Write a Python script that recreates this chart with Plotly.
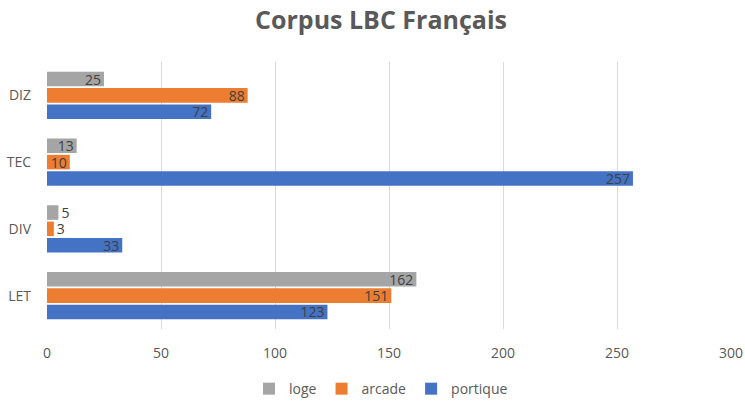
import plotly.graph_objects as go

categories = ["LET", "DIV", "TEC", "DIZ"]
portique = [123, 33, 257, 72]
arcade = [151, 3, 10, 88]
loge = [162, 5, 13, 25]
x_ticks = [0, 50, 100, 150, 200, 250, 300]

series = [
    ("portique", portique, "#4472C4"),
    ("arcade", arcade, "#ED7D31"),
    ("loge", loge, "#A5A5A5"),
]

W, H = 745, 401

fig = go.Figure()
for name, vals, color in series:
    fig.add_trace(go.Bar(
        y=categories, x=vals, name=name, orientation="h",
        marker=dict(color=color, line=dict(width=0)),
        text=[str(v) for v in vals],
        textposition=["inside" if v >= 10 else "outside" for v in vals],
        insidetextanchor="end",
        textangle=0,
        constraintext="none",
        textfont=dict(color="#404040", size=14, family="Open Sans"),
        outsidetextfont=dict(color="#404040", size=14, family="Open Sans"),
        cliponaxis=False,
    ))

fig.update_layout(
    width=W, height=H,
    paper_bgcolor="white", plot_bgcolor="white",
    title=dict(text="<b>Corpus LBC Français</b>", x=381 / W, xanchor="center",
               y=1 - 20 / H, yanchor="middle", yref="container",
               font=dict(size=25, color="#595959", family="Open Sans")),
    barmode="group", bargap=0.265, bargroupgap=0.11,
    margin=dict(l=47, r=14, t=62, b=72, autoexpand=False),
    font=dict(family="Open Sans", color="#595959", size=13),
    xaxis=dict(range=[0, 300], tickvals=x_ticks, showgrid=True,
               gridcolor="#D9D9D9", gridwidth=1, zeroline=False,
               showline=False, ticks="", ticklabelstandoff=14, automargin=False,
               tickfont=dict(size=14, color="#595959")),
    yaxis=dict(showgrid=False, showline=False, ticks="", ticklabelstandoff=15,
               automargin=False, tickfont=dict(size=14, color="#595959")),
    legend=dict(orientation="h", x=(381 - 47) / 684, xanchor="center", y=-0.225,
                yanchor="middle", traceorder="reversed", itemwidth=30,
                font=dict(size=14, color="#595959")),
)

fig.write_html(
    "out.html",
    config={"displayModeBar": False},
    post_script="document.body.style.margin='0';document.body.style.overflow='hidden';",
)
